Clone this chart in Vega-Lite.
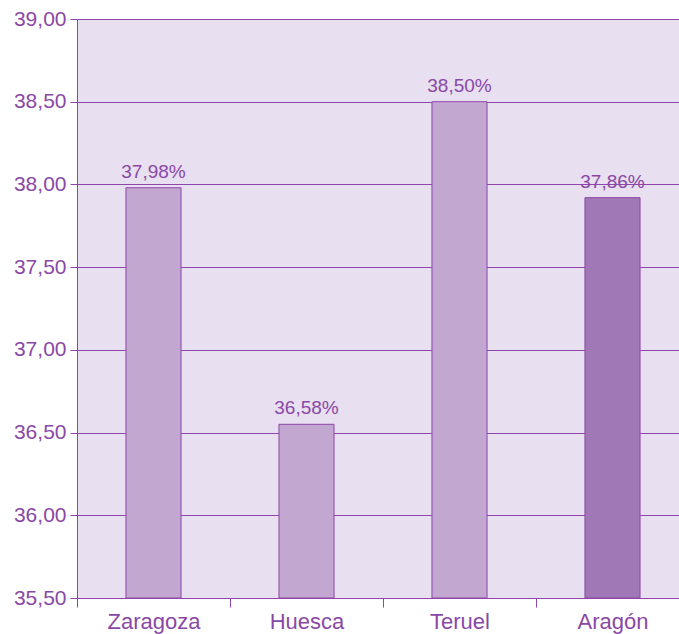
{
  "$schema": "https://vega.github.io/schema/vega-lite/v6.json",
  "autosize": "none",
  "width": 602,
  "height": 579,
  "padding": {"left": 77, "top": 19, "right": 0, "bottom": 36},
  "background": "white",
  "data": {
    "values": [
      {"region": "Zaragoza", "value": 37.98, "label": "37,98%", "kind": "provincia"},
      {"region": "Huesca", "value": 36.55, "label": "36,58%", "kind": "provincia"},
      {"region": "Teruel", "value": 38.50, "label": "38,50%", "kind": "provincia"},
      {"region": "Aragón", "value": 37.92, "label": "37,86%", "kind": "total"}
    ]
  },
  "encoding": {
    "x": {
      "field": "region",
      "type": "nominal",
      "sort": null,
      "title": null,
      "scale": {"range": [0, 612], "paddingInner": 0.64, "paddingOuter": 0.32},
      "axis": {
        "labelAngle": 0,
        "labelFont": "Liberation Sans",
        "labelFontSize": 22,
        "labelColor": "#8a48a6",
        "labelPadding": 4,
        "bandPosition": 0,
        "tickOffset": -48.96,
        "labelOffset": 48.96,
        "tickSize": 9,
        "tickColor": "#8e46ab",
        "domainColor": "#8e46ab",
        "grid": false
      }
    }
  },
  "layer": [
    {
      "mark": {"type": "bar", "stroke": "#8e46ab", "strokeWidth": 1},
      "encoding": {
        "y": {
          "field": "value",
          "type": "quantitative",
          "title": null,
          "scale": {"domain": [35.5, 39], "zero": false, "nice": false},
          "axis": {
            "values": [35.5, 36, 36.5, 37, 37.5, 38, 38.5, 39],
            "labelExpr": "replace(format(datum.value, '.2f'), '.', ',')",
            "labelFont": "Liberation Sans",
            "labelFontSize": 21,
            "labelColor": "#8a48a6",
            "labelPadding": 4,
            "tickSize": 7,
            "tickColor": "#8e46ab",
            "domainColor": "#8e46ab",
            "grid": true,
            "gridColor": "#8e46ab",
            "gridOpacity": 1,
            "gridWidth": 1
          }
        },
        "y2": {"datum": 35.5},
        "color": {
          "field": "kind",
          "type": "nominal",
          "scale": {"domain": ["provincia", "total"], "range": ["#c2a8d1", "#a078b6"]},
          "legend": null
        }
      }
    },
    {
      "mark": {"type": "text", "baseline": "bottom", "dy": -6, "font": "Liberation Sans", "fontSize": 19, "color": "#8a48a6"},
      "encoding": {
        "y": {"field": "value", "type": "quantitative"},
        "text": {"field": "label", "type": "nominal"}
      }
    }
  ],
  "config": {
    "view": {"fill": "#e8dff0", "stroke": null}
  }
}
